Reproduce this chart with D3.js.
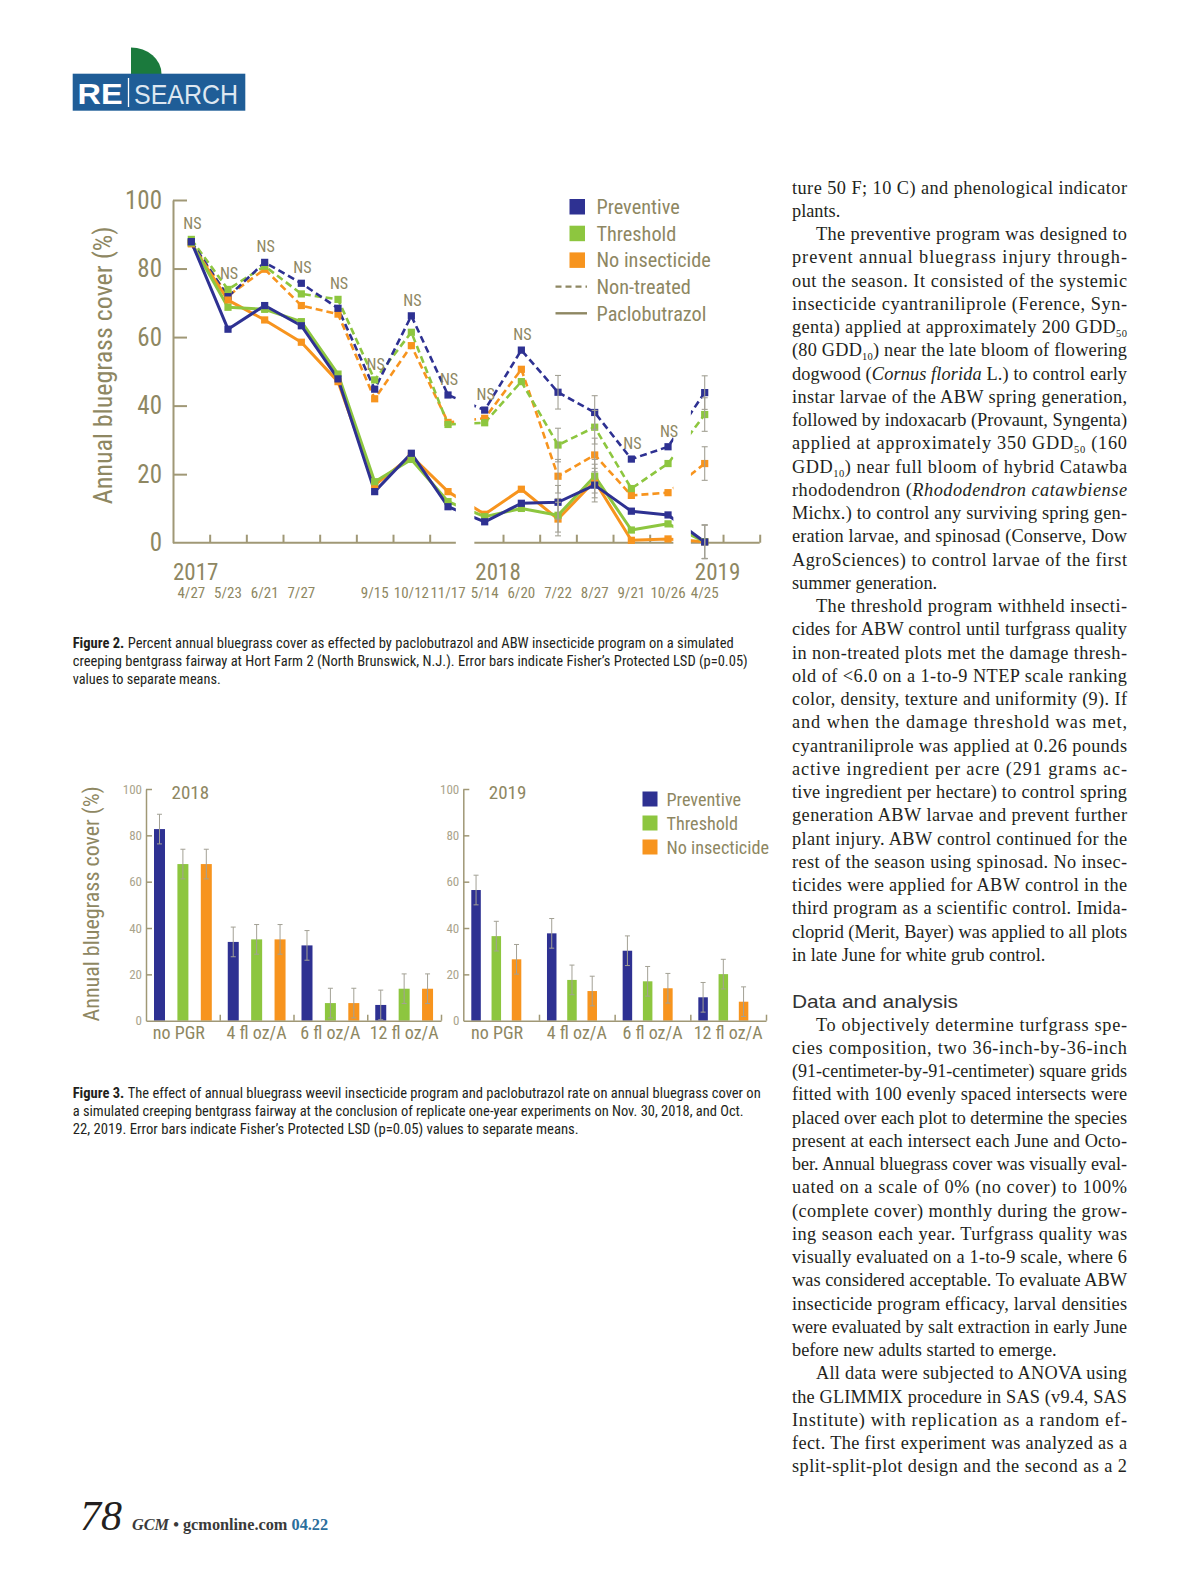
<!DOCTYPE html>
<html><head><meta charset="utf-8">
<script src="https://cdn.jsdelivr.net/npm/d3@7"></script>
<style>
html,body{margin:0;padding:0;background:#fff;}
svg{display:block;}
</style></head>
<body>
<svg id="page" width="1200" height="1582"></svg>
<script>
// ---------------- DATA ----------------
// Figure 2 (line chart): 15 sampling dates in 16 slots
const fig2DateLabels = ["4/27","5/23","6/21","7/27","","9/15","10/12","11/17","5/14","6/20","7/22","8/27","9/21","10/26","4/25"];
const fig2Years = ["2017","2018","2019"];
const fig2YTicks = [0,20,40,60,80,100];
// Non-treated (dashed)
const ntPreventive   = [87.8,71.8,81.8,75.7,68.4,44.8,66.2,43.1,38.7,56.2,43.9,38.0,24.4,28.0,43.8];
const ntThreshold    = [88.5,73.9,80.7,72.6,71.0,47.5,61.4,34.5,35.0,47.0,28.5,33.7,15.8,23.1,37.4];
const ntNoInsecticide= [87.4,72.0,79.8,69.2,66.7,42.0,57.5,35.1,36.3,50.6,19.4,25.6,13.8,14.6,23.1];
// Paclobutrazol (solid)
const pbPreventive   = [87.8,62.3,69.2,63.3,47.8,14.9,26.1,10.5,6.1,11.5,11.8,16.8,9.2,8.1,0.2];
const pbThreshold    = [87.5,68.7,68.1,64.5,49.2,17.8,24.3,12.0,7.6,10.0,8.0,19.4,3.7,5.5,0.3];
const pbNoInsecticide= [87.2,70.8,65.0,58.5,47.0,16.8,25.3,14.9,8.3,15.6,6.9,18.0,0.7,1.1,0.3];
const fig2NS  = [0,1,2,3,4,5,6,7,8,9,12,13];      // dates marked NS
const fig2LSD = [{slot:10,half:4.9},{slot:11,half:4.9},{slot:14,half:4.9}];

// Figure 3 (bar charts)
const fig3Rates = ["no PGR","4 fl oz/A","6 fl oz/A","12 fl oz/A"];
const fig3Series = ["Preventive","Threshold","No insecticide"];
const bars2018Preventive    = [82.7,34.0,32.5,6.8];
const bars2018Threshold     = [67.6,35.1,7.6,13.8];
const bars2018NoInsecticide = [67.6,35.1,7.6,13.8];
const bars2019Preventive    = [56.4,37.7,30.2,10.1];
const bars2019Threshold     = [36.5,17.6,17.0,20.1];
const bars2019NoInsecticide = [26.5,12.8,14.0,8.2];
const lsd2018 = 6.4, lsd2019 = 6.4;
const fig3YTicks = [0,20,40,60,80,100];

// ---------------- STYLE ----------------
const NAVY="#2e3192", GREEN="#8dc63f", ORANGE="#f7941e";
const KHAKI="#8e8762", AXIS="#a09876", TICKLBL="#aaa48c", ERR="#a3a195";
const INK="#231f20";

function fontAvailable(name){
  const c=document.createElement('canvas').getContext('2d');
  const s='abcdefghijklmnopqrstuvwxyzABCDEFGHIJ0123456789';
  c.font='40px monospace'; const a=c.measureText(s).width;
  c.font='40px "'+name+'", monospace'; const b=c.measureText(s).width;
  c.font='40px serif'; const d=c.measureText(s).width;
  c.font='40px "'+name+'", serif'; const e=c.measureText(s).width;
  return a!==b || d!==e;
}
const narrowCandidates=["Liberation Sans Narrow","Arial Narrow","Roboto Condensed","DejaVu Sans Condensed"];
let NARROW=narrowCandidates.find(fontAvailable);
const COND = NARROW ? '"'+NARROW+'", "Liberation Sans", sans-serif' : '"Liberation Sans", Arial, sans-serif';
const SERIF='"Liberation Serif", "Times New Roman", serif';
const SANS='"Liberation Sans", Arial, sans-serif';

const svg=d3.select("#page");

// ---------------- HEADER ----------------
const hdr=svg.append("g");
hdr.append("path").attr("d","M131,74 V47.5 A30.5,26.5 0 0 1 161.5,74 Z").attr("fill","#1b7a3d");
hdr.append("rect").attr("x",72.7).attr("y",73.7).attr("width",172.6).attr("height",37).attr("fill","#1f5d97");
hdr.append("text").attr("x",77.5).attr("y",103.5).attr("font-family",SANS).attr("font-weight","bold")
  .attr("font-size",29).attr("fill","#fff").attr("textLength",45).attr("lengthAdjust","spacingAndGlyphs").text("RE");
hdr.append("line").attr("x1",128.5).attr("x2",128.5).attr("y1",78).attr("y2",107).attr("stroke","#fff").attr("stroke-width",1.3);
hdr.append("text").attr("x",134).attr("y",103.5).attr("font-family",SANS).attr("font-weight","300")
  .attr("font-size",28).attr("fill","#dde7f1").attr("textLength",104).attr("lengthAdjust","spacingAndGlyphs").text("SEARCH");

// ---------------- FIGURE 2 ----------------
const f2=svg.append("g");
const x2=d3.scaleLinear().domain([0,16]).range([173,759.7]);
const y2=d3.scaleLinear().domain([0,100]).range([542.7,200]);
const px=i=>x2(i+0.5);

// segments of broken x axis
const segs=[[x2(0),x2(8)-10.5],[x2(8)+8,x2(14)-13],[x2(14)+4.5,x2(16)]];
const defs=svg.append("defs");
const cp=defs.append("clipPath").attr("id","segclip");
segs.forEach(s=>cp.append("rect").attr("x",s[0]).attr("y",150).attr("width",s[1]-s[0]).attr("height",450));

// y axis
const yAx=f2.append("g").attr("transform","translate("+x2(0)+",0)")
  .call(d3.axisLeft(y2).tickValues(fig2YTicks).tickSizeInner(-14).tickSizeOuter(0).tickPadding(11).tickFormat(d3.format("d")));
yAx.select(".domain").attr("stroke",AXIS).attr("stroke-width",2);
yAx.selectAll(".tick line").attr("stroke",AXIS).attr("stroke-width",2);
yAx.selectAll(".tick text").attr("fill",KHAKI).attr("font-family",COND).attr("font-size",25).attr("class","cond");
yAx.selectAll(".tick").filter(d=>d===0).select("line").remove();

// x axis ticks
const xAx=f2.append("g").attr("transform","translate(0,"+y2(0)+")")
  .call(d3.axisBottom(x2).tickValues([1,2,3,4,5,6,7,9,10,11,12,13,15,16]).tickSize(-8).tickFormat(""));
xAx.select(".domain").remove();
xAx.selectAll(".tick line").attr("stroke",AXIS).attr("stroke-width",2);
segs.forEach(s=>f2.append("line").attr("x1",s[0]).attr("x2",s[1]).attr("y1",y2(0)).attr("y2",y2(0))
  .attr("stroke",AXIS).attr("stroke-width",2));

// axis title
f2.append("text").attr("transform","translate(112,"+(y2(50)-6)+") rotate(-90)").attr("text-anchor","middle")
  .attr("font-family",COND).attr("font-size",26).attr("fill",KHAKI).attr("class","cond")
  .text("Annual bluegrass cover (%)");

// year labels + date labels
const yearStarts=[segs[0][0],segs[1][0]+1,segs[2][0]+4];
fig2Years.forEach((t,i)=>f2.append("text").attr("x",yearStarts[i]).attr("y",580).attr("font-family",COND)
  .attr("font-size",23).attr("fill",KHAKI).attr("class","cond").text(t));
fig2DateLabels.forEach((t,i)=>{ if(!t) return;
  f2.append("text").attr("x",px(i)).attr("y",598).attr("text-anchor","middle").attr("font-family",COND)
    .attr("font-size",15).attr("fill",KHAKI).attr("class","cond").text(t);});

// lines
const lineGen=d3.line().x((d,i)=>px(i)).y(d=>y2(d));
const series2=[
  {v:ntNoInsecticide,c:ORANGE,dash:true},{v:ntThreshold,c:GREEN,dash:true},{v:ntPreventive,c:NAVY,dash:true},
  {v:pbNoInsecticide,c:ORANGE,dash:false},{v:pbThreshold,c:GREEN,dash:false},{v:pbPreventive,c:NAVY,dash:false}];
const lg=f2.append("g").attr("clip-path","url(#segclip)");
series2.forEach(s=>{
  lg.append("path").datum(s.v).attr("d",lineGen).attr("fill","none").attr("stroke",s.c)
    .attr("stroke-width",s.dash?2.6:3).attr("stroke-dasharray",s.dash?"7,4":null).attr("stroke-linejoin","round");
});
// error bars (LSD)
const eg=f2.append("g");
series2.forEach(s=>{
  fig2LSD.forEach(e=>{
    const v=s.v[e.slot], xx=px(e.slot);
    eg.append("line").attr("x1",xx).attr("x2",xx).attr("y1",y2(v-e.half)).attr("y2",y2(v+e.half)).attr("stroke",ERR).attr("stroke-width",1.1);
    [v-e.half,v+e.half].forEach(w=>eg.append("line").attr("x1",xx-3).attr("x2",xx+3).attr("y1",y2(w)).attr("y2",y2(w)).attr("stroke",ERR).attr("stroke-width",1.1));
  });
});
// markers
series2.forEach(s=>{
  lg.append("g").selectAll("rect").data(s.v).join("rect")
    .attr("x",(d,i)=>px(i)-3.6).attr("y",d=>y2(d)-3.6).attr("width",7.2).attr("height",7.2).attr("fill",s.c);
});
// NS labels
fig2NS.forEach(i=>{
  const top=d3.max(series2,s=>s.v[i]);
  f2.append("text").attr("x",px(i)+1).attr("y",y2(top)-10).attr("text-anchor","middle").attr("font-family",COND)
    .attr("font-size",16).attr("fill",KHAKI).attr("class","cond").text("NS");
});
// legend
const leg2=f2.append("g");
const leg2Items=[{t:"Preventive",c:NAVY,k:"sq"},{t:"Threshold",c:GREEN,k:"sq"},{t:"No insecticide",c:ORANGE,k:"sq"},
  {t:"Non-treated",c:KHAKI,k:"dash"},{t:"Paclobutrazol",c:KHAKI,k:"solid"}];
leg2Items.forEach((it,i)=>{
  const cy=206.5+i*26.7;
  if(it.k==="sq") leg2.append("rect").attr("x",569.5).attr("y",cy-7.5).attr("width",15.5).attr("height",15.5).attr("fill",it.c);
  else leg2.append("line").attr("x1",555.5).attr("x2",587).attr("y1",cy).attr("y2",cy).attr("stroke",it.c)
    .attr("stroke-width",2.4).attr("stroke-dasharray",it.k==="dash"?"6,4":null);
  leg2.append("text").attr("x",596.5).attr("y",cy+7.5).attr("font-family",COND).attr("font-size",20.3)
    .attr("fill",KHAKI).attr("class","cond").text(it.t);
});

// ---------------- FIGURE 3 ----------------
const y3=d3.scaleLinear().domain([0,100]).range([1020.7,789]);
const colors3=[NAVY,GREEN,ORANGE];
const panels=[
  {year:"2018",range:[146,441],inner:[8,65.8],vals:[bars2018Preventive,bars2018Threshold,bars2018NoInsecticide],lsd:lsd2018},
  {year:"2019",range:[463.3,766],inner:[8,58],vals:[bars2019Preventive,bars2019Threshold,bars2019NoInsecticide],lsd:lsd2019}];
const f3=svg.append("g");
panels.forEach((p,pi)=>{
  const g=f3.append("g");
  const xg=d3.scaleBand().domain(fig3Rates).range(p.range);
  const xs=d3.scaleBand().domain(fig3Series).range(p.inner).paddingInner(0.53);
  // bars
  fig3Series.forEach((s,si)=>{
    g.append("g").selectAll("rect").data(p.vals[si]).join("rect")
      .attr("x",(d,i)=>xg(fig3Rates[i])+xs(s)).attr("y",d=>y3(d)).attr("width",xs.bandwidth())
      .attr("height",d=>y3(0)-y3(d)).attr("fill",colors3[si]);
  });
  // error bars
  fig3Series.forEach((s,si)=>{
    p.vals[si].forEach((d,i)=>{
      const cx=xg(fig3Rates[i])+xs(s)+xs.bandwidth()/2;
      const hi=d+p.lsd;
      g.append("line").attr("x1",cx).attr("x2",cx).attr("y1",y3(d-p.lsd)).attr("y2",y3(hi)).attr("stroke",ERR).attr("stroke-width",1);
      [d-p.lsd,hi].forEach(w=>g.append("line").attr("x1",cx-2.5).attr("x2",cx+2.5).attr("y1",y3(w)).attr("y2",y3(w)).attr("stroke",ERR).attr("stroke-width",1));
    });
  });
  // y axis
  const ya=g.append("g").attr("transform","translate("+p.range[0]+",0)")
    .call(d3.axisLeft(y3).tickValues(fig3YTicks).tickSizeInner(-6).tickSizeOuter(0).tickPadding(4).tickFormat(d3.format("d")));
  ya.select(".domain").attr("stroke",AXIS).attr("stroke-width",1.5);
  ya.selectAll(".tick line").attr("stroke",AXIS).attr("stroke-width",1.5);
  ya.selectAll(".tick text").attr("fill",TICKLBL).attr("font-family",COND).attr("font-size",13).attr("class","cond");
  ya.selectAll(".tick").filter(d=>d===0).select("line").remove();
  // x axis
  const xl=d3.scaleLinear().domain([0,4]).range(p.range);
  const xa=g.append("g").attr("transform","translate(0,"+y3(0)+")")
    .call(d3.axisBottom(xl).tickValues([1,2,3,4]).tickSize(-6).tickSizeOuter(0).tickFormat(""));
  xa.select(".domain").attr("stroke",AXIS).attr("stroke-width",1.5);
  xa.selectAll(".tick line").attr("stroke",AXIS).attr("stroke-width",1.5);
  fig3Rates.forEach(r=>g.append("text").attr("x",xg(r)+xg.bandwidth()/2-(r==="no PGR"?4:0)).attr("y",1038.5)
    .attr("text-anchor","middle").attr("font-family",COND).attr("font-size",18).attr("fill",KHAKI).attr("class","cond").text(r));
  g.append("text").attr("x",p.range[0]+25.5).attr("y",799).attr("font-family",COND).attr("font-size",19)
    .attr("fill",KHAKI).attr("class","cond").text(p.year);
});
f3.append("text").attr("transform","translate(99,"+(y3(50)-1)+") rotate(-90)").attr("text-anchor","middle")
  .attr("font-family",COND).attr("font-size",22).attr("fill",KHAKI).attr("class","cond")
  .text("Annual bluegrass cover (%)");
fig3Series.forEach((s,i)=>{
  const cy=799+i*24;
  f3.append("rect").attr("x",642.5).attr("y",cy-7.5).attr("width",15).attr("height",15).attr("fill",colors3[i]);
  f3.append("text").attr("x",666.5).attr("y",cy+7).attr("font-family",COND).attr("font-size",18.2)
    .attr("fill",KHAKI).attr("class","cond").text(s);
});

// ---------------- CAPTIONS ----------------
function caption(lines,y0){
  lines.forEach((ln,i)=>{
    const t=svg.append("text").attr("x",72.7).attr("y",y0+i*18).attr("font-family",COND).attr("font-size",15)
      .attr("fill",INK).attr("textLength",ln.w).attr("lengthAdjust","spacingAndGlyphs");
    if(ln.b) t.append("tspan").attr("font-weight","bold").text(ln.b);
    t.append("tspan").text(ln.t);
  });
}
caption([
 {b:"Figure 2. ",t:"Percent annual bluegrass cover as effected by paclobutrazol and ABW insecticide program on a simulated",w:661},
 {t:"creeping bentgrass fairway at Hort Farm 2 (North Brunswick, N.J.). Error bars indicate Fisher\u2019s Protected LSD (p=0.05)",w:675},
 {t:"values to separate means.",w:148}],648);
caption([
 {b:"Figure 3. ",t:"The effect of annual bluegrass weevil insecticide program and paclobutrazol rate on annual bluegrass cover on",w:688},
 {t:"a simulated creeping bentgrass fairway at the conclusion of replicate one-year experiments on Nov. 30, 2018, and Oct.",w:671},
 {t:"22, 2019. Error bars indicate Fisher\u2019s Protected LSD (p=0.05) values to separate means.",w:506}],1098);

// ---------------- BODY TEXT ----------------
// i: indent, e: paragraph end (not justified), h: heading, blank: empty
const body=[
 {s:"ture 50 F; 10 C) and phenological indicator"},
 {s:"plants.",e:1},
 {s:"The preventive program was designed to",i:1},
 {s:"prevent annual bluegrass injury through-"},
 {s:"out the season. It consisted of the systemic"},
 {s:"insecticide cyantraniliprole (Ference, Syn-"},
 {s:"genta) applied at approximately 200 GDD_{50}"},
 {s:"(80 GDD_{10}) near the late bloom of flowering"},
 {s:"dogwood (*Cornus florida* L.) to control early"},
 {s:"instar larvae of the ABW spring generation,"},
 {s:"followed by indoxacarb (Provaunt, Syngenta)"},
 {s:"applied at approximately 350 GDD_{50} (160"},
 {s:"GDD_{10}) near full bloom of hybrid Catawba"},
 {s:"rhododendron (*Rhododendron catawbiense*"},
 {s:"Michx.) to control any surviving spring gen-"},
 {s:"eration larvae, and spinosad (Conserve, Dow"},
 {s:"AgroSciences) to control larvae of the first"},
 {s:"summer generation.",e:1},
 {s:"The threshold program withheld insecti-",i:1},
 {s:"cides for ABW control until turfgrass quality"},
 {s:"in non-treated plots met the damage thresh-"},
 {s:"old of <6.0 on a 1-to-9 NTEP scale ranking"},
 {s:"color, density, texture and uniformity (9). If"},
 {s:"and when the damage threshold was met,"},
 {s:"cyantraniliprole was applied at 0.26 pounds"},
 {s:"active ingredient per acre (291 grams ac-"},
 {s:"tive ingredient per hectare) to control spring"},
 {s:"generation ABW larvae and prevent further"},
 {s:"plant injury. ABW control continued for the"},
 {s:"rest of the season using spinosad. No insec-"},
 {s:"ticides were applied for ABW control in the"},
 {s:"third program as a scientific control. Imida-"},
 {s:"cloprid (Merit, Bayer) was applied to all plots"},
 {s:"in late June for white grub control.",e:1},
 {blank:1},
 {s:"Data and analysis",h:1},
 {s:"To objectively determine turfgrass spe-",i:1},
 {s:"cies composition, two 36-inch-by-36-inch"},
 {s:"(91-centimeter-by-91-centimeter) square grids"},
 {s:"fitted with 100 evenly spaced intersects were"},
 {s:"placed over each plot to determine the species"},
 {s:"present at each intersect each June and Octo-"},
 {s:"ber. Annual bluegrass cover was visually eval-"},
 {s:"uated on a scale of 0% (no cover) to 100%"},
 {s:"(complete cover) monthly during the grow-"},
 {s:"ing season each year. Turfgrass quality was"},
 {s:"visually evaluated on a 1-to-9 scale, where 6"},
 {s:"was considered acceptable. To evaluate ABW"},
 {s:"insecticide program efficacy, larval densities"},
 {s:"were evaluated by salt extraction in early June"},
 {s:"before new adults started to emerge.",e:1},
 {s:"All data were subjected to ANOVA using",i:1},
 {s:"the GLIMMIX procedure in SAS (v9.4, SAS"},
 {s:"Institute) with replication as a random ef-"},
 {s:"fect. The first experiment was analyzed as a"},
 {s:"split-split-plot design and the second as a 2"}
];
function rich(t,str){
  const parts=str.split(/(\*[^*]+\*|_\{[^}]+\})/g).filter(s=>s.length);
  let low=false;
  parts.forEach(p=>{
    if(p[0]==="*"){ const s=t.append("tspan").attr("font-style","italic").text(p.slice(1,-1)); if(low){s.attr("dy",-4);low=false;} }
    else if(p.startsWith("_{")){ t.append("tspan").attr("font-size","10.5px").attr("dy",4).text(p.slice(2,-1)); low=true; }
    else { const s=t.append("tspan").text(p); if(low){s.attr("dy",-4);low=false;} }
  });
}
const colX=792, colW=335;
body.forEach((ln,k)=>{
  if(ln.blank) return;
  const y=193.5+k*23.25;
  if(ln.h){
    svg.append("text").attr("x",colX).attr("y",y+0.5).attr("font-family",SANS).attr("font-size",19)
      .attr("fill","#333").attr("textLength",166).attr("lengthAdjust","spacingAndGlyphs").text(ln.s);
    return;
  }
  const x=colX+(ln.i?24:0);
  const t=svg.append("text").attr("x",x).attr("y",y).attr("font-family",SERIF).attr("font-size",18.3).attr("fill",INK)
    .attr("xml:space","preserve");
  rich(t,ln.s);
  if(!ln.e){
    const target=colW-(ln.i?24:0);
    const nat=t.node().getComputedTextLength();
    t.attr("textLength",target).attr("lengthAdjust",nat>target-4?"spacingAndGlyphs":"spacing");
  }
});

// ---------------- FOOTER ----------------
svg.append("text").attr("x",80).attr("y",1530).attr("font-family",SERIF).attr("font-style","italic")
  .attr("font-size",42).attr("fill",INK).text("78");
const ft=svg.append("text").attr("x",132).attr("y",1530).attr("font-family",SERIF).attr("font-size",16.3).attr("fill","#3a3a3a");
ft.append("tspan").attr("font-style","italic").attr("font-weight","bold").text("GCM");
ft.append("tspan").attr("font-weight","bold").text(" \u2022 gcmonline.com ");
ft.append("tspan").attr("font-weight","bold").attr("fill","#2b6e9c").text(" 04.22");

// ---------------- condense fallback ----------------
if(!NARROW){
  d3.selectAll("text.cond").each(function(){
    const el=this, w=el.getComputedTextLength(); if(!w) return;
    const anchor=getComputedStyle(el).textAnchor;
    const x=parseFloat(el.getAttribute("x")||0), nw=w*0.8;
    let nx=x; if(anchor==="middle") nx=x-nw/2; else if(anchor==="end") nx=x-nw;
    el.setAttribute("x",nx); el.setAttribute("text-anchor","start"); el.style.textAnchor="start";
    el.setAttribute("textLength",nw); el.setAttribute("lengthAdjust","spacingAndGlyphs");
  });
}
</script>
</body></html>
